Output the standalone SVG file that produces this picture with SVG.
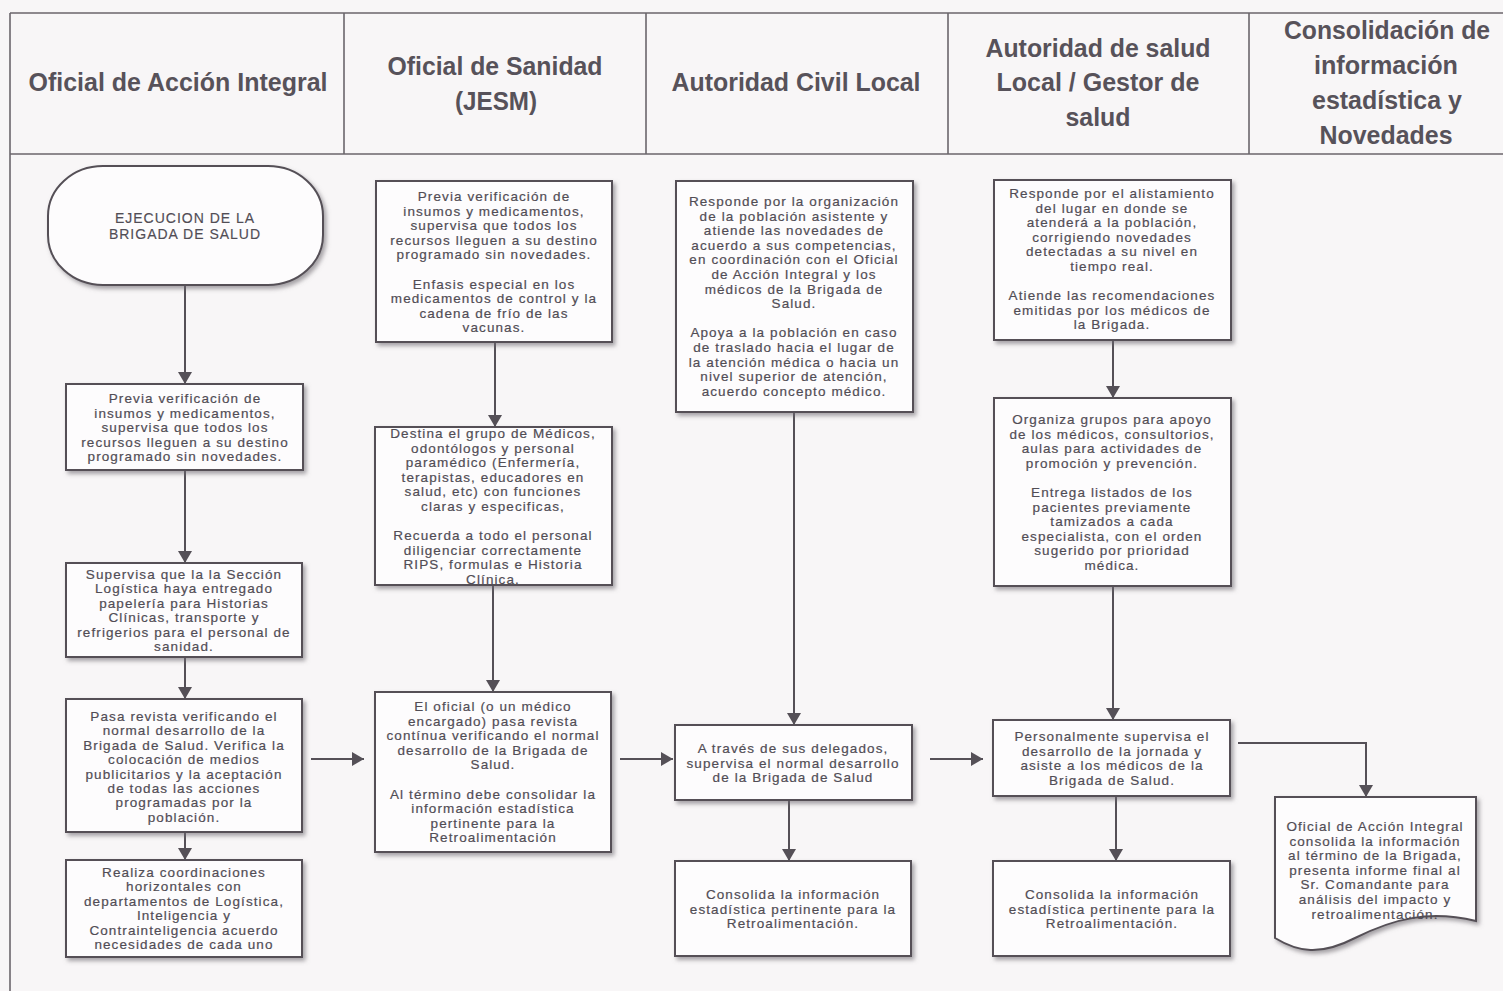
<svg xmlns="http://www.w3.org/2000/svg" width="1503" height="991" viewBox="0 0 1503 991">
  <style>
    .bg { fill: #f8f6f7; }
    .grid { stroke: #6b666c; stroke-width: 1.6; fill: none; }
    .hd { font-family: "Liberation Sans Narrow", "Liberation Sans", Arial, sans-serif; font-weight: bold; font-size: 25px; fill: #57525a; text-anchor: middle; }
    .box { fill: #fdfcfd; stroke: #555057; stroke-width: 2; filter: url(#shadow); }
    .t { font-family: "Liberation Sans", Arial, sans-serif; font-size: 13.5px; letter-spacing: 1.1px; fill: #514d55; stroke: #514d55; stroke-width: 0.2; text-anchor: middle; }
    .tc { font-family: "Liberation Sans", Arial, sans-serif; font-size: 14px; letter-spacing: 1px; fill: #514d55; stroke: #514d55; stroke-width: 0.15; text-anchor: middle; }
    .ln { stroke: #555057; stroke-width: 2; fill: none; marker-end: url(#arrow); }
  </style>
  <defs>
    <filter id="shadow" x="-10%" y="-10%" width="125%" height="125%">
      <feDropShadow dx="2.5" dy="3" stdDeviation="2" flood-color="#6e6a70" flood-opacity="0.6"/>
    </filter>
    <marker id="arrow" viewBox="0 0 12 14" refX="12" refY="7" markerWidth="12" markerHeight="14" markerUnits="userSpaceOnUse" orient="auto">
      <path d="M0,0 L12,7 L0,14 Z" fill="#555057"/>
    </marker>
  </defs>

  <rect class="bg" x="0" y="0" width="1503" height="991"/>

  <!-- lane headers -->
  <g id="lanes">
    <path class="grid" d="M10,13 H1503 M10,154 H1503 M10,13 V991 M344,13 V154 M646,13 V154 M948,13 V154 M1249,13 V154"/>
    <text class="hd" x="178" y="91" textLength="299" lengthAdjust="spacingAndGlyphs">Oficial de Acción Integral</text>
    <text class="hd" x="495" y="75" textLength="215" lengthAdjust="spacingAndGlyphs">Oficial de Sanidad</text>
    <text class="hd" x="496" y="110" textLength="82" lengthAdjust="spacingAndGlyphs">(JESM)</text>
    <text class="hd" x="796" y="91" textLength="249" lengthAdjust="spacingAndGlyphs">Autoridad Civil Local</text>
    <text class="hd" x="1098" y="57" textLength="225" lengthAdjust="spacingAndGlyphs">Autoridad de salud</text>
    <text class="hd" x="1098" y="91" textLength="203" lengthAdjust="spacingAndGlyphs">Local / Gestor de</text>
    <text class="hd" x="1098" y="126" textLength="65" lengthAdjust="spacingAndGlyphs">salud</text>
    <text class="hd" x="1387" y="39" textLength="206" lengthAdjust="spacingAndGlyphs">Consolidación de</text>
    <text class="hd" x="1386" y="74" textLength="144" lengthAdjust="spacingAndGlyphs">información</text>
    <text class="hd" x="1387" y="109" textLength="150" lengthAdjust="spacingAndGlyphs">estadística y</text>
    <text class="hd" x="1386" y="144" textLength="133" lengthAdjust="spacingAndGlyphs">Novedades</text>
  </g>

  <!-- connectors -->
  <g id="connectors">
    <line class="ln" x1="185" y1="286" x2="185" y2="384"/>
    <line class="ln" x1="185" y1="471" x2="185" y2="563"/>
    <line class="ln" x1="185" y1="658" x2="185" y2="699"/>
    <line class="ln" x1="185" y1="833" x2="185" y2="860"/>
    <line class="ln" x1="495" y1="343" x2="495" y2="427"/>
    <line class="ln" x1="493" y1="586" x2="493" y2="692"/>
    <line class="ln" x1="794" y1="413" x2="794" y2="725"/>
    <line class="ln" x1="789" y1="801" x2="789" y2="861"/>
    <line class="ln" x1="1113" y1="341" x2="1113" y2="398"/>
    <line class="ln" x1="1113" y1="587" x2="1113" y2="720"/>
    <line class="ln" x1="1116" y1="797" x2="1116" y2="861"/>
    <line class="ln" x1="311" y1="759" x2="364" y2="759"/>
    <line class="ln" x1="620" y1="759" x2="673" y2="759"/>
    <line class="ln" x1="930" y1="759" x2="983" y2="759"/>
    <polyline class="ln" points="1238,743 1366,743 1366,797"/>
  </g>

  <!-- Oficial de Acción Integral -->
  <g id="n-inicio">
    <rect class="box" x="48" y="166" width="275" height="119" rx="55" ry="50"/>
    <text class="tc" x="185" y="223"><tspan x="185">EJECUCION DE LA</tspan><tspan x="185" dy="16">BRIGADA DE SALUD</tspan></text>
  </g>
  <g id="n-ai-1">
    <rect class="box" x="66" y="384" width="237" height="86"/>
    <text class="t" y="403"><tspan x="185">Previa verificación de</tspan><tspan x="185" dy="14.6">insumos y medicamentos,</tspan><tspan x="185" dy="14.6">supervisa que todos los</tspan><tspan x="185" dy="14.6">recursos lleguen a su destino</tspan><tspan x="185" dy="14.6">programado sin novedades.</tspan></text>
  </g>
  <g id="n-ai-2">
    <rect class="box" x="66" y="563" width="236" height="94"/>
    <text class="t" y="579"><tspan x="184">Supervisa que la la Sección</tspan><tspan x="184" dy="14.4">Logística haya entregado</tspan><tspan x="184" dy="14.4">papelería para Historias</tspan><tspan x="184" dy="14.4">Clínicas, transporte y</tspan><tspan x="184" dy="14.4">refrigerios para el personal de</tspan><tspan x="184" dy="14.4">sanidad.</tspan></text>
  </g>
  <g id="n-ai-3">
    <rect class="box" x="66" y="699" width="236" height="133"/>
    <text class="t" y="721"><tspan x="184">Pasa revista verificando el</tspan><tspan x="184" dy="14.4">normal desarrollo de la</tspan><tspan x="184" dy="14.4">Brigada de Salud. Verifica la</tspan><tspan x="184" dy="14.4">colocación de medios</tspan><tspan x="184" dy="14.4">publicitarios y la aceptación</tspan><tspan x="184" dy="14.4">de todas las acciones</tspan><tspan x="184" dy="14.4">programadas por la</tspan><tspan x="184" dy="14.4">población.</tspan></text>
  </g>
  <g id="n-ai-4">
    <rect class="box" x="66" y="860" width="236" height="97"/>
    <text class="t" y="877"><tspan x="184">Realiza coordinaciones</tspan><tspan x="184" dy="14.4">horizontales con</tspan><tspan x="184" dy="14.4">departamentos de Logística,</tspan><tspan x="184" dy="14.4">Inteligencia y</tspan><tspan x="184" dy="14.4">Contrainteligencia acuerdo</tspan><tspan x="184" dy="14.4">necesidades de cada uno</tspan></text>
  </g>

  <!-- Oficial de Sanidad (JESM) -->
  <g id="n-s-1">
    <rect class="box" x="376" y="181" width="236" height="161"/>
    <text class="t" y="201"><tspan x="494">Previa verificación de</tspan><tspan x="494" dy="14.6">insumos y medicamentos,</tspan><tspan x="494" dy="14.6">supervisa que todos los</tspan><tspan x="494" dy="14.6">recursos lleguen a su destino</tspan><tspan x="494" dy="14.6">programado sin novedades.</tspan><tspan x="494" dy="29.2">Enfasis especial en los</tspan><tspan x="494" dy="14.6">medicamentos de control y la</tspan><tspan x="494" dy="14.6">cadena de frío de las</tspan><tspan x="494" dy="14.6">vacunas.</tspan></text>
  </g>
  <g id="n-s-2">
    <rect class="box" x="375" y="427" width="237" height="158"/>
    <text class="t" y="438"><tspan x="493">Destina el grupo de Médicos,</tspan><tspan x="493" dy="14.6">odontólogos y personal</tspan><tspan x="493" dy="14.6">paramédico (Enfermería,</tspan><tspan x="493" dy="14.6">terapistas, educadores en</tspan><tspan x="493" dy="14.6">salud, etc) con funciones</tspan><tspan x="493" dy="14.6">claras y especificas,</tspan><tspan x="493" dy="29.2">Recuerda a todo el personal</tspan><tspan x="493" dy="14.6">diligenciar correctamente</tspan><tspan x="493" dy="14.6">RIPS,  formulas e Historia</tspan><tspan x="493" dy="14.6">Clínica.</tspan></text>
  </g>
  <g id="n-s-3">
    <rect class="box" x="375" y="692" width="236" height="160"/>
    <text class="t" y="711"><tspan x="493">El oficial (o un médico</tspan><tspan x="493" dy="14.6">encargado) pasa revista</tspan><tspan x="493" dy="14.6">contínua verificando el normal</tspan><tspan x="493" dy="14.6">desarrollo de la Brigada de</tspan><tspan x="493" dy="14.6">Salud.</tspan><tspan x="493" dy="29.2">Al término debe consolidar la</tspan><tspan x="493" dy="14.6">información estadística</tspan><tspan x="493" dy="14.6">pertinente para la</tspan><tspan x="493" dy="14.6">Retroalimentación</tspan></text>
  </g>

  <!-- Autoridad Civil Local -->
  <g id="n-c-1">
    <rect class="box" x="676" y="181" width="237" height="231"/>
    <text class="t" y="206"><tspan x="794">Responde por la organización</tspan><tspan x="794" dy="14.6">de la población asistente y</tspan><tspan x="794" dy="14.6">atiende las novedades de</tspan><tspan x="794" dy="14.6">acuerdo a sus competencias,</tspan><tspan x="794" dy="14.6">en coordinación con el Oficial</tspan><tspan x="794" dy="14.6">de Acción Integral y los</tspan><tspan x="794" dy="14.6">médicos de la Brigada de</tspan><tspan x="794" dy="14.6">Salud.</tspan><tspan x="794" dy="29.2">Apoya a la población en caso</tspan><tspan x="794" dy="14.6">de traslado hacia el lugar de</tspan><tspan x="794" dy="14.6">la atención médica o hacia un</tspan><tspan x="794" dy="14.6">nivel superior de atención,</tspan><tspan x="794" dy="14.6">acuerdo concepto médico.</tspan></text>
  </g>
  <g id="n-c-2">
    <rect class="box" x="675" y="725" width="237" height="75"/>
    <text class="t" y="753"><tspan x="793">A través de sus delegados,</tspan><tspan x="793" dy="14.6">supervisa el normal desarrollo</tspan><tspan x="793" dy="14.6">de la Brigada de Salud</tspan></text>
  </g>
  <g id="n-c-3">
    <rect class="box" x="675" y="861" width="236" height="95"/>
    <text class="t" y="899"><tspan x="793">Consolida la información</tspan><tspan x="793" dy="14.6">estadística pertinente para la</tspan><tspan x="793" dy="14.6">Retroalimentación.</tspan></text>
  </g>

  <!-- Autoridad de salud Local / Gestor de salud -->
  <g id="n-g-1">
    <rect class="box" x="994" y="180" width="237" height="160"/>
    <text class="t" y="198"><tspan x="1112">Responde por el alistamiento</tspan><tspan x="1112" dy="14.6">del lugar en donde se</tspan><tspan x="1112" dy="14.6">atenderá a la población,</tspan><tspan x="1112" dy="14.6">corrigiendo novedades</tspan><tspan x="1112" dy="14.6">detectadas a su nivel en</tspan><tspan x="1112" dy="14.6">tiempo real.</tspan><tspan x="1112" dy="29.2">Atiende las recomendaciones</tspan><tspan x="1112" dy="14.6">emitidas por los médicos de</tspan><tspan x="1112" dy="14.6">la Brigada.</tspan></text>
  </g>
  <g id="n-g-2">
    <rect class="box" x="994" y="398" width="237" height="188"/>
    <text class="t" y="424"><tspan x="1112">Organiza grupos para apoyo</tspan><tspan x="1112" dy="14.6">de los médicos, consultorios,</tspan><tspan x="1112" dy="14.6">aulas para actividades de</tspan><tspan x="1112" dy="14.6">promoción y prevención.</tspan><tspan x="1112" dy="29.2">Entrega listados de los</tspan><tspan x="1112" dy="14.6">pacientes previamente</tspan><tspan x="1112" dy="14.6">tamizados a cada</tspan><tspan x="1112" dy="14.6">especialista, con el orden</tspan><tspan x="1112" dy="14.6">sugerido por prioridad</tspan><tspan x="1112" dy="14.6">médica.</tspan></text>
  </g>
  <g id="n-g-3">
    <rect class="box" x="993" y="720" width="237" height="76"/>
    <text class="t" y="741"><tspan x="1112">Personalmente supervisa el</tspan><tspan x="1112" dy="14.6">desarrollo de la jornada y</tspan><tspan x="1112" dy="14.6">asiste a los médicos de la</tspan><tspan x="1112" dy="14.6">Brigada de Salud.</tspan></text>
  </g>
  <g id="n-g-4">
    <rect class="box" x="993" y="861" width="237" height="95"/>
    <text class="t" y="899"><tspan x="1112">Consolida la información</tspan><tspan x="1112" dy="14.6">estadística pertinente para la</tspan><tspan x="1112" dy="14.6">Retroalimentación.</tspan></text>
  </g>

  <!-- Consolidación de información estadística y Novedades -->
  <g id="n-informe">
    <path class="box" d="M1275,797 H1476 V921 C1430,910 1395,918 1355,938 C1320,956 1298,952 1275,938 Z"/>
    <text class="t" y="831"><tspan x="1375">Oficial de Acción Integral</tspan><tspan x="1375" dy="14.6">consolida la información</tspan><tspan x="1375" dy="14.6">al término de la Brigada,</tspan><tspan x="1375" dy="14.6">presenta informe final al</tspan><tspan x="1375" dy="14.6">Sr. Comandante para</tspan><tspan x="1375" dy="14.6">análisis del impacto y</tspan><tspan x="1375" dy="14.6">retroalimentación.</tspan></text>
  </g>
</svg>
